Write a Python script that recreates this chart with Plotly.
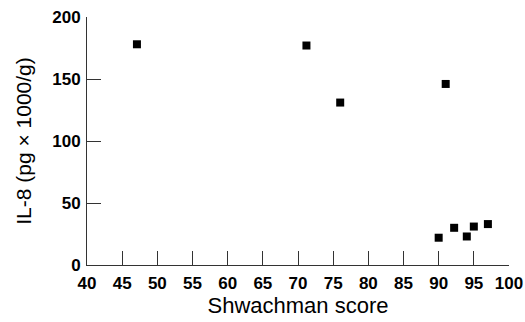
import plotly.graph_objects as go

shwachman = [47.1, 71.2, 76.0, 91.0, 90.0, 92.2, 94.0, 95.0, 97.0]
il8 = [178, 177, 131, 146, 22, 30, 23, 31, 33]

x_ticks = list(range(40, 101, 5))
y_ticks = [0, 50, 100, 150, 200]

FONT = "Liberation Sans, Arial, sans-serif"
tick_font = dict(family=FONT, size=17, color="black", weight="bold")
title_font = dict(family=FONT, size=21, color="black")

fig = go.Figure()
fig.add_trace(go.Scatter(
    x=shwachman, y=il8, mode="markers",
    marker=dict(symbol="square", size=8, color="black"),
    showlegend=False,
))

fig.update_layout(
    width=525, height=322,
    margin=dict(l=87, r=16, t=17, b=57, autoexpand=False),
    paper_bgcolor="white", plot_bgcolor="white",
    font=dict(family=FONT, size=17, color="black"),
    xaxis=dict(
        range=[40, 100], tickvals=x_ticks, ticktext=[str(v) for v in x_ticks],
        ticks="inside", ticklen=14, tickwidth=1, tickcolor="#333",
        showline=True, linecolor="#333", linewidth=1,
        showgrid=False, zeroline=False, automargin=False,
        tickfont=tick_font, ticklabelstandoff=3,
        title=dict(text="Shwachman score", font=dict(family=FONT, size=22, color="black"), standoff=4),
    ),
    yaxis=dict(
        range=[0, 200], tickvals=y_ticks, ticktext=[str(v) for v in y_ticks],
        ticks="inside", ticklen=14, tickwidth=1, tickcolor="#333",
        showline=True, linecolor="#333", linewidth=1,
        showgrid=False, zeroline=False, automargin=False,
        tickfont=tick_font, ticklabelstandoff=2,
        title=dict(text="IL-8 (pg × 1000/g)", font=title_font, standoff=14),
    ),
)

fig.write_html(
    "out.html",
    config={"displayModeBar": False},
    post_script="document.body.style.margin='0';document.body.style.overflow='hidden';",
)
